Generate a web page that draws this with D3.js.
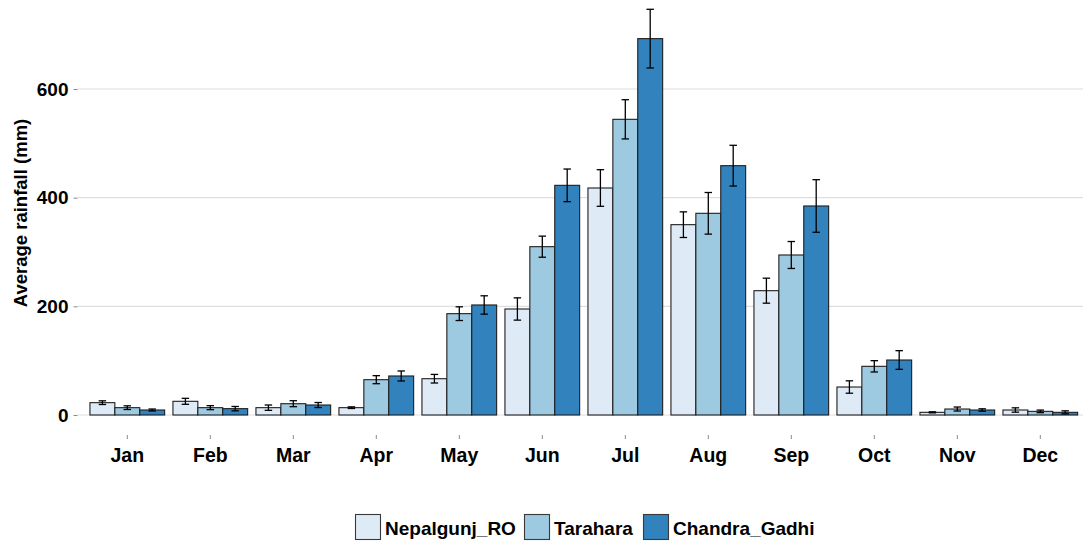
<!DOCTYPE html>
<html>
<head>
<meta charset="utf-8">
<script src="https://cdn.jsdelivr.net/npm/d3@7"></script>
<style>
  html, body { margin: 0; padding: 0; background: #fff; }
  svg { display: block; font-family: "Liberation Sans", Arial, sans-serif; }
</style>
</head>
<body>
<svg id="chart" width="1083" height="543"></svg>
<script>
// Monthly average rainfall (mm) with standard errors at three stations
const months = ["Jan", "Feb", "Mar", "Apr", "May", "Jun", "Jul", "Aug", "Sep", "Oct", "Nov", "Dec"];
const stations = ["Nepalgunj_RO", "Tarahara", "Chandra_Gadhi"];
const stationColors = ["#deebf7", "#9ecae1", "#3182bd"];

const nepalgunjMean = [22.7, 25.2, 13.5, 13.5, 66.8, 195.1, 417.8, 350.3, 228.8, 51.5, 4.9, 9.2];
const nepalgunjErr  = [3.4, 5.5, 4.9, 1.5, 7.9, 20.5, 33.7, 23.6, 23.0, 11.4, 1.0, 4.0];
const taraharaMean  = [13.5, 13.5, 20.8, 65.0, 186.5, 309.8, 544.2, 371.2, 294.5, 89.6, 11.0, 6.7];
const taraharaErr   = [3.4, 3.7, 5.5, 7.4, 12.6, 19.4, 36.1, 38.3, 24.8, 10.4, 3.7, 2.4];
const chandraMean   = [9.2, 11.7, 18.4, 71.8, 202.5, 422.7, 692.7, 458.9, 384.7, 101.2, 9.2, 4.9];
const chandraErr    = [1.8, 4.0, 4.6, 9.2, 16.9, 30.0, 54.0, 37.5, 48.4, 17.2, 2.2, 2.8];

const yTicks = [0, 200, 400, 600];

const seriesMeans = [nepalgunjMean, taraharaMean, chandraMean];
const seriesErrs = [nepalgunjErr, taraharaErr, chandraErr];

const rows = [];
months.forEach((m, i) => {
  stations.forEach((s, j) => {
    rows.push({ month: m, station: s, mean: seriesMeans[j][i], err: seriesErrs[j][i], color: stationColors[j] });
  });
});

const svg = d3.select("#chart");

const panelLeft = 77.5, panelRight = 1083;

// Month positions: one unit per month, centres 83px apart
const x = d3.scaleBand().domain(months).range([85.8, 1081.8]).padding(0);
const xs = d3.scaleBand().domain(stations)
  .range([x.bandwidth() * 0.05, x.bandwidth() * 0.95]).padding(0);
const y = d3.scaleLinear().domain([0, 600]).range([415, 89]);

// horizontal grid lines
svg.append("g")
  .selectAll("line")
  .data(yTicks)
  .join("line")
  .attr("x1", panelLeft).attr("x2", panelRight)
  .attr("y1", d => y(d)).attr("y2", d => y(d))
  .attr("stroke", "#dedede").attr("stroke-width", 1.2);

// y axis
const yAxis = svg.append("g")
  .attr("transform", `translate(${panelLeft},0)`)
  .call(d3.axisLeft(y).tickValues(yTicks).tickSize(4).tickPadding(5).tickFormat(d3.format("d")));
yAxis.select(".domain").remove();
yAxis.selectAll(".tick line").attr("stroke", "#8a8a8a");
yAxis.selectAll(".tick text")
  .attr("fill", "#000").attr("font-size", 19).attr("font-weight", "bold")
  .attr("font-family", "'Liberation Sans', Arial, sans-serif");

// x axis
const xAxis = svg.append("g")
  .attr("transform", "translate(0,435)")
  .call(d3.axisBottom(x).tickSize(4).tickPadding(9));
xAxis.select(".domain").remove();
xAxis.selectAll(".tick line").attr("stroke", "#8a8a8a");
xAxis.selectAll(".tick text")
  .attr("fill", "#000").attr("font-size", 19.5).attr("font-weight", "bold")
  .attr("font-family", "'Liberation Sans', Arial, sans-serif");

// y axis title
svg.append("text")
  .attr("transform", "translate(27,213) rotate(-90)")
  .attr("text-anchor", "middle")
  .attr("font-size", 18.5).attr("font-weight", "bold").attr("fill", "#000")
  .text("Average rainfall (mm)");

// bars
const bars = svg.append("g");
bars.selectAll("rect")
  .data(rows)
  .join("rect")
  .attr("x", d => x(d.month) + xs(d.station))
  .attr("width", xs.bandwidth())
  .attr("y", d => y(d.mean))
  .attr("height", d => y(0) - y(d.mean))
  .attr("fill", d => d.color)
  .attr("stroke", "#1e1e1e").attr("stroke-width", 1.1);

// error bars
const capHalf = xs.bandwidth() * 0.15;
const eb = svg.append("g").attr("stroke", "#000").attr("stroke-width", 1.3);
rows.forEach(d => {
  const cx = x(d.month) + xs(d.station) + xs.bandwidth() / 2;
  const yHi = y(d.mean + d.err), yLo = y(d.mean - d.err);
  eb.append("line").attr("x1", cx).attr("x2", cx).attr("y1", yHi).attr("y2", yLo);
  eb.append("line").attr("x1", cx - capHalf).attr("x2", cx + capHalf).attr("y1", yHi).attr("y2", yHi);
  eb.append("line").attr("x1", cx - capHalf).attr("x2", cx + capHalf).attr("y1", yLo).attr("y2", yLo);
});

// legend
const legendX = [355, 524, 643];
const legend = svg.append("g");
stations.forEach((s, j) => {
  const g = legend.append("g").attr("transform", `translate(${legendX[j]},514)`);
  g.append("rect").attr("x", 0.5).attr("y", 0.5).attr("width", 25).attr("height", 25)
    .attr("fill", stationColors[j]).attr("stroke", "#3a3a3a").attr("stroke-width", 1.1);
  g.append("text").attr("x", 30).attr("y", 20.5)
    .attr("font-size", 19).attr("font-weight", "bold").attr("fill", "#000")
    .text(s);
});
</script>
</body>
</html>
